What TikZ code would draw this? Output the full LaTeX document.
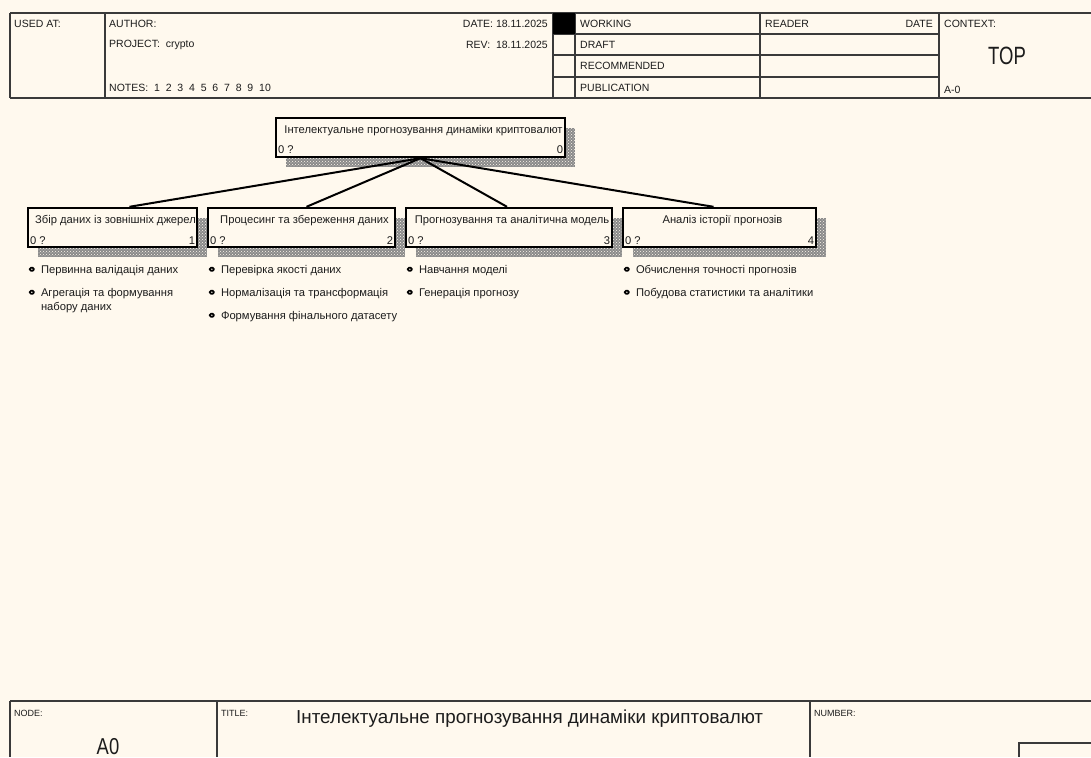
\documentclass[tikz,border=0pt]{standalone}
\usepackage{fontspec}
\setmainfont{Liberation Sans}
\usetikzlibrary{positioning,calc,patterns}
\definecolor{paper}{HTML}{FFF9EE}
\definecolor{ink}{HTML}{1C1C1C}
\definecolor{rulegray}{HTML}{3A3A3A}
\definecolor{shade}{HTML}{8A8A8A}

\begin{document}
\begin{tikzpicture}[x=1pt,y=-1pt,
  ruleline/.style={draw=rulegray,line width=1.2pt},
  lbl/.style={inner sep=0pt,anchor=west,text=ink,font=\fontsize{10.5}{12}\selectfont},
  tinylbl/.style={inner sep=0pt,anchor=west,text=ink,font=\fontsize{9}{11}\selectfont},
  actbox/.style={draw=black,line width=2.4pt,fill=paper,inner sep=0pt,minimum height=39pt},
  hatchshadow/.style={fill=shade,postaction={pattern=crosshatch dots,pattern color=paper}},
  boxtext/.style={inner sep=0pt,text=ink,font=\fontsize{11.2}{13}\selectfont},
  link/.style={draw=black,line width=2pt},
  bulletmark/.style={draw=black,line width=1.7pt,rounded corners=1.2pt,minimum width=4pt,minimum height=3pt,inner sep=0pt},
  entry/.style={inner sep=0pt,anchor=base west,text=ink,font=\fontsize{11.2}{14}\selectfont}]
  \fill[paper] (0,0) rectangle (1091,757);
  \useasboundingbox (0,0) rectangle (1091,757);

  % header form
  \draw[ruleline] (10,13) -- (1091,13);
  \draw[ruleline] (10,98) -- (1091,98);
  \draw[ruleline] (10,13) -- (10,98);
  \foreach \x in {105,553,575,760,939} \draw[ruleline] (\x,13) -- (\x,98);
  \foreach \y in {34,55,77} \draw[ruleline] (553,\y) -- (939,\y);
  \fill[black] (553,13) rectangle (575,34);

  \node[lbl] (usedat) at (14,24) {USED AT:};
  \node[lbl] (author) at (109,24) {AUTHOR:};
  \node[lbl] (project) at (109,45) {PROJECT:\ \ crypto};
  \node[lbl] (notes) at (109,88) {NOTES:\ \ 1\ \ 2\ \ 3\ \ 4\ \ 5\ \ 6\ \ 7\ \ 8\ \ 9\ \ 10};
  \node[lbl,anchor=east] (date) at (548,24) {DATE: 18.11.2025};
  \node[lbl,anchor=east] (rev) at (548,45) {REV:\ \ 18.11.2025};
  \node[lbl] (working) at (580,24) {WORKING};
  \node[lbl] (draft) at (580,45) {DRAFT};
  \node[lbl] (recommended) at (580,66) {RECOMMENDED};
  \node[lbl] (publication) at (580,88) {PUBLICATION};
  \node[lbl] (reader) at (765,24) {READER};
  \node[lbl,anchor=east] (readdate) at (933,24) {DATE};
  \node[lbl] (context) at (944,24) {CONTEXT:};
  \node[inner sep=0pt,anchor=base,text=ink,font=\fontsize{25}{28}\selectfont] (top) at (1007,65) {\scalebox{0.74}[1]{TOP}};
  \node[lbl] (ctxnode) at (944,90) {A-0};

  % parent activity
  \fill[hatchshadow] (286,128) rectangle (575,167);
  \node[actbox,minimum width=289pt] (a0) at (420.5,137.5) {};
  \node[boxtext] (a0name) at ($(a0.north)+(3,14)$) {Інтелектуальне прогнозування динаміки криптовалют};
  \node[boxtext,anchor=west] (a0cost) at ($(a0.south west)+(3,-9)$) {0 ?};
  \node[boxtext,anchor=east] (a0num) at ($(a0.south east)+(-3,-9)$) {0};

  % child activities
  \fill[hatchshadow] (38,218) rectangle (207,257);
  \fill[hatchshadow] (218,218) rectangle (405,257);
  \fill[hatchshadow] (416,218) rectangle (622,257);
  \fill[hatchshadow] (633,218) rectangle (826,257);
  \node[actbox,minimum width=169pt] (a1) at (112.5,227.5) {};
  \node[actbox,minimum width=187pt] (a2) at (301.5,227.5) {};
  \node[actbox,minimum width=206pt] (a3) at (509,227.5) {};
  \node[actbox,minimum width=193pt] (a4) at (719.5,227.5) {};

  \foreach \n/\name in {1/Збір даних із зовнішніх джерел,2/Процесинг та збереження даних,3/Прогнозування та аналітична модель,4/Аналіз історії прогнозів} {
    \node[boxtext] (a\n name) at ($(a\n.north)+(3,14)$) {\name};
    \node[boxtext,anchor=west] (a\n cost) at ($(a\n.south west)+(3,-8)$) {0 ?};
    \node[boxtext,anchor=east] (a\n num) at ($(a\n.south east)+(-3,-8)$) {\n};
  }

  \draw[link] (a0.south) -- ([xshift=17pt]a1.north);
  \draw[link] (a0.south) -- ([xshift=5pt]a2.north);
  \draw[link] (a0.south) -- ([xshift=-2pt]a3.north);
  \draw[link] (a0.south) -- ([xshift=-6pt]a4.north);

  % sub-steps under each activity
  \foreach \txt [count=\i] in {Первинна валідація даних,Агрегація та формування} {
    \node[bulletmark] (b1\i) at ($(a1.south west)+(5,{21+23*(\i-1)})$) {};
    \node[entry] (e1\i) at ($(b1\i.center)+(9,4)$) {\txt};
  }
  \node[entry] (e12b) at ($(e12.base west)+(0,14)$) {набору даних};
  \foreach \txt [count=\i] in {Перевірка якості даних,Нормалізація та трансформація,Формування фінального датасету} {
    \node[bulletmark] (b2\i) at ($(a2.south west)+(5,{21+23*(\i-1)})$) {};
    \node[entry] (e2\i) at ($(b2\i.center)+(9,4)$) {\txt};
  }
  \foreach \txt [count=\i] in {Навчання моделі,Генерація прогнозу} {
    \node[bulletmark] (b3\i) at ($(a3.south west)+(5,{21+23*(\i-1)})$) {};
    \node[entry] (e3\i) at ($(b3\i.center)+(9,4)$) {\txt};
  }
  \foreach \txt [count=\i] in {Обчислення точності прогнозів,Побудова статистики та аналітики} {
    \node[bulletmark] (b4\i) at ($(a4.south west)+(5,{21+23*(\i-1)})$) {};
    \node[entry] (e4\i) at ($(b4\i.center)+(9,4)$) {\txt};
  }

  % footer form
  \draw[ruleline] (10,701) -- (1091,701);
  \draw[ruleline] (10,701) -- (10,757);
  \draw[ruleline] (217,701) -- (217,757);
  \draw[ruleline] (810,701) -- (810,757);
  \draw[ruleline] (1091,743) -- (1019,743) -- (1019,757);
  \node[tinylbl] (nodelbl) at (14,713) {NODE:};
  \node[inner sep=0pt,anchor=base,text=ink,font=\fontsize{23}{26}\selectfont] (nodeid) at (108,754) {\scalebox{0.8}[1]{A0}};
  \node[tinylbl] (titlelbl) at (221,713) {TITLE:};
  \node[inner sep=0pt,anchor=west,text=ink,font=\fontsize{18.8}{21}\selectfont] (title) at (296,719) {Інтелектуальне прогнозування динаміки криптовалют};
  \node[tinylbl] (numberlbl) at (814,713) {NUMBER:};
\end{tikzpicture}
\end{document}
